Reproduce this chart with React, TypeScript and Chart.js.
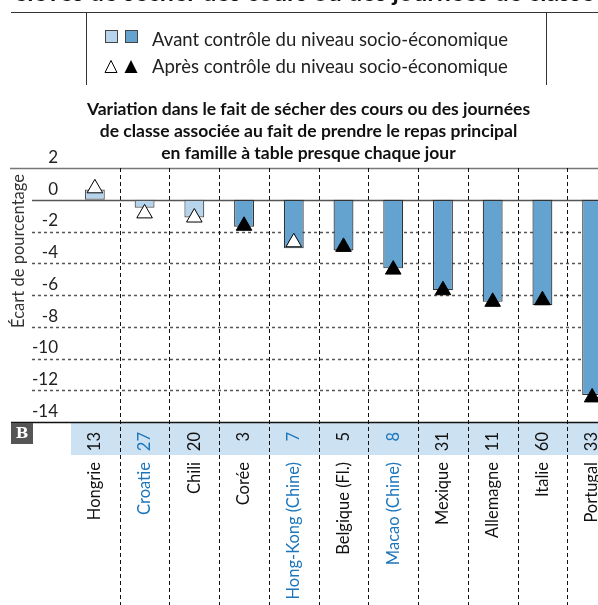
import React, { useEffect, useRef } from "react";
import { Chart, registerables } from "chart.js";

Chart.register(...registerables);

const categories = [
  "Hongrie",
  "Croatie",
  "Chili",
  "Corée",
  "Hong-Kong (Chine)",
  "Belgique (Fl.)",
  "Macao (Chine)",
  "Mexique",
  "Allemagne",
  "Italie",
  "Portugal",
];
const beforeValues = [0.65, -0.5, -1.12, -1.7, -3.06, -3.19, -4.32, -5.7, -6.43, -6.65, -12.3];
const afterValues = [0.72, -0.86, -1.12, -1.64, -2.68, -2.97, -4.4, -5.7, -6.43, -6.33, -12.45];
const beforeSignificant = [false, false, false, true, true, true, true, true, true, true, true];
const afterSignificant = [false, false, false, true, false, true, true, true, true, true, true];
const bandNumbers = ["13", "27", "20", "3", "7", "5", "8", "31", "11", "60", "33"];
const highlighted = [false, true, false, false, true, false, true, false, false, false, false];
const yMin = -14;
const yMax = 2;
const yStep = 2;
const titleLines = [
  "Variation dans le fait de sécher des cours ou des journées",
  "de classe associée au fait de prendre le repas principal",
  "en famille à table presque chaque jour",
];
const yAxisTitle = "Écart de pourcentage";
const legendBefore = "Avant contrôle du niveau socio-économique";
const legendAfter = "Après contrôle du niveau socio-économique";
const headingText = "élèves de sécher des cours ou des journées de classe";

const LIGHT = "#B6D4EC";
const DARK = "#64A3CF";
const BAND = "#CCE1F1";
const BLUE = "#1C76BC";
const FONT = "Lato, 'Open Sans', sans-serif";

const overlayPlugin = {
  id: "overlay",
  beforeDatasetsDraw(chart: any) {
    const { ctx, chartArea, scales } = chart;
    const x = scales.x;
    const y = scales.y;
    const H = chart.height;
    ctx.save();
    // band
    const bandTop = y.getPixelForValue(yMin);
    ctx.fillStyle = BAND;
    ctx.fillRect(chartArea.left + 1, bandTop, chartArea.right - chartArea.left, 33);
    // horizontal dashed grid lines
    ctx.lineWidth = 1.5;
    ctx.strokeStyle = "#555";
    ctx.setLineDash([3, 3]);
    for (let v = yMin + yStep; v < 0; v += yStep) {
      const py = Math.round(y.getPixelForValue(v)) + 0.5;
      ctx.beginPath();
      ctx.moveTo(32, py);
      ctx.lineTo(chartArea.right, py);
      ctx.stroke();
    }
    ctx.setLineDash([]);
    // top line
    let py = Math.round(y.getPixelForValue(yMax)) + 0.5;
    ctx.strokeStyle = "#777";
    ctx.beginPath();
    ctx.moveTo(10, py);
    ctx.lineTo(chartArea.right, py);
    ctx.stroke();
    // bottom line
    py = Math.round(y.getPixelForValue(yMin)) + 0.5;
    ctx.strokeStyle = "#111";
    ctx.beginPath();
    ctx.moveTo(11, py);
    ctx.lineTo(chartArea.right, py);
    ctx.stroke();
    // vertical dashed separators
    ctx.lineWidth = 1;
    ctx.strokeStyle = "#111";
    ctx.setLineDash([4, 3]);
    const half = (x.getPixelForValue(1) - x.getPixelForValue(0)) / 2;
    for (let i = 0; i < categories.length - 1; i++) {
      const px = Math.round(x.getPixelForValue(i) + half) + 0.5;
      ctx.beginPath();
      ctx.moveTo(px, chartArea.top);
      ctx.lineTo(px, H);
      ctx.stroke();
    }
    ctx.setLineDash([]);
    // zero line
    py = Math.round(y.getPixelForValue(0)) + 0.5;
    ctx.lineWidth = 1.5;
    ctx.strokeStyle = "#555";
    ctx.beginPath();
    ctx.moveTo(32, py);
    ctx.lineTo(chartArea.right, py);
    ctx.stroke();
    ctx.restore();
  },
  afterDraw(chart: any) {
    const { ctx, scales } = chart;
    const x = scales.x;
    const y = scales.y;
    ctx.save();
    // band numbers
    const bandTop = y.getPixelForValue(yMin);
    ctx.font = `16.5px ${FONT}`;
    ctx.textAlign = "right";
    ctx.textBaseline = "middle";
    for (let i = 0; i < categories.length; i++) {
      ctx.save();
      ctx.translate(x.getPixelForValue(i), bandTop + 10);
      ctx.rotate(-Math.PI / 2);
      ctx.fillStyle = highlighted[i] ? BLUE : "#111";
      ctx.fillText(bandNumbers[i], 0, 0);
      ctx.restore();
    }
    // B box
    ctx.fillStyle = "#555";
    ctx.fillRect(11, bandTop + 1, 22, 21);
    ctx.fillStyle = "#fff";
    ctx.font = "bold 15px 'DejaVu Serif', serif";
    ctx.textAlign = "center";
    ctx.fillText("B", 22, bandTop + 12);
    // y axis title
    ctx.save();
    ctx.translate(19, 251);
    ctx.rotate(-Math.PI / 2);
    ctx.font = `16.5px ${FONT}`;
    ctx.fillStyle = "#333";
    ctx.textAlign = "center";
    ctx.fillText(yAxisTitle, 0, 0);
    ctx.restore();
    ctx.restore();
  },
};

export default function App() {
  const canvasRef = useRef<HTMLCanvasElement | null>(null);

  useEffect(() => {
    const canvas = canvasRef.current;
    if (!canvas) return;
    const chart = new Chart(canvas, {
      type: "bar",
      data: {
        labels: categories,
        datasets: [
          {
            type: "line",
            label: "Après",
            data: afterValues,
            showLine: false,
            pointStyle: "triangle",
            pointRadius: 9,
            pointHoverRadius: 9,
            pointBackgroundColor: afterSignificant.map((s) => (s ? "#000" : "#fff")),
            pointBorderColor: "#000",
            pointBorderWidth: 1,
            order: 1,
          } as any,
          {
            type: "bar",
            label: "Avant",
            data: beforeValues,
            backgroundColor: beforeSignificant.map((s) => (s ? DARK : LIGHT)),
            borderColor: beforeSignificant.map((s) => (s ? "#333" : "#555")),
            borderWidth: 1.2,
            borderSkipped: false,
            barPercentage: 0.4,
            categoryPercentage: 1,
            order: 2,
          },
        ],
      },
      options: {
        responsive: false,
        animation: false,
        devicePixelRatio: 1,
        layout: { autoPadding: false, padding: { top: 98, left: 0, right: 0, bottom: 0 } },
        plugins: {
          legend: { display: false },
          tooltip: { enabled: false },
          title: {
            display: true,
            text: titleLines,
            color: "#111",
            font: { family: FONT, size: 17.5, weight: "bold", lineHeight: 22 / 17.5 },
            padding: { top: 0, bottom: 4 },
          },
        },
        scales: {
          x: {
            type: "category",
            offset: true,
            grid: { display: false, drawTicks: false },
            border: { display: false },
            afterFit: (scale: any) => {
              scale.height = 183;
              scale.paddingLeft = 0;
              scale.paddingRight = 0;
            },
            ticks: {
              autoSkip: false,
              minRotation: 90,
              maxRotation: 90,
              padding: 40,
              font: { family: FONT, size: 16.5 },
              color: (c: any) => (highlighted[c.index] ? BLUE : "#111"),
            },
          },
          y: {
            min: yMin,
            max: yMax,
            grid: { display: false, drawTicks: false },
            border: { display: false },
            afterFit: (scale: any) => {
              scale.width = 70;
            },
            ticks: {
              stepSize: yStep,
              padding: 12,
              labelOffset: -10.5,
              font: { family: FONT, size: 17 },
              color: "#222",
            },
          },
        },
      },
      plugins: [overlayPlugin],
    });
    return () => chart.destroy();
  }, []);

  const sq = (bg: string, left: number) => (
    <div
      style={{
        position: "absolute",
        left,
        top: 30,
        width: 11,
        height: 11,
        background: bg,
        border: "1px solid #444",
      }}
    />
  );

  return (
    <div
      style={{
        position: "fixed",
        left: 0,
        top: 0,
        width: 598,
        height: 605,
        overflow: "hidden",
        background: "#fff",
        fontFamily: FONT,
      }}
    >
      <canvas
        ref={canvasRef}
        width={617}
        height={605}
        style={{ position: "absolute", left: 0, top: 0, width: 617, height: 605 }}
      />
      <div
        style={{
          position: "absolute",
          left: 14,
          top: -21,
          whiteSpace: "nowrap",
          fontWeight: "bold",
          fontSize: 25,
          lineHeight: "25px",
          color: "#111",
        }}
      >
        {headingText}
      </div>
      <div style={{ position: "absolute", left: 11, top: 12, width: 600, height: 1, background: "#333" }} />
      <div style={{ position: "absolute", left: 86, top: 12, width: 1, height: 73, background: "#333" }} />
      <div style={{ position: "absolute", left: 546, top: 12, width: 1, height: 73, background: "#333" }} />
      {sq(LIGHT, 105)}
      {sq(DARK, 125)}
      <svg
        style={{ position: "absolute", left: 104, top: 59 }}
        width={36}
        height={16}
        viewBox="0 0 36 16"
      >
        <polygon points="7,1.5 13,13.5 1,13.5" fill="#fff" stroke="#000" strokeWidth={1} />
        <polygon points="27,1 33.5,14 20.5,14" fill="#000" />
      </svg>
      <div
        style={{
          position: "absolute",
          left: 152,
          top: 28,
          fontSize: 18.5,
          lineHeight: "22px",
          color: "#222",
          whiteSpace: "nowrap",
        }}
      >
        {legendBefore}
      </div>
      <div
        style={{
          position: "absolute",
          left: 152,
          top: 55,
          fontSize: 18.5,
          lineHeight: "22px",
          color: "#222",
          whiteSpace: "nowrap",
        }}
      >
        {legendAfter}
      </div>
    </div>
  );
}
